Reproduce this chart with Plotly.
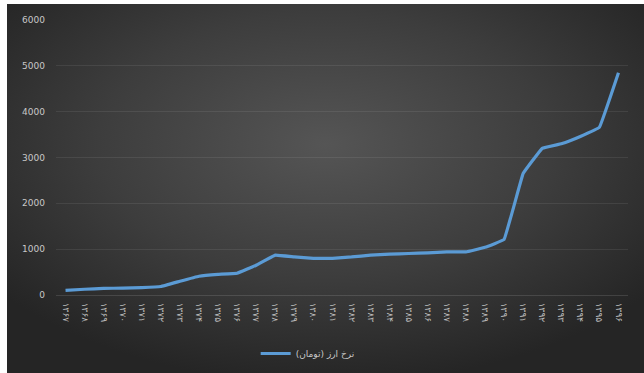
import base64
import plotly.graph_objects as go

# Solar Hijri years and the free-market exchange rate (toman)
years = list(range(1367, 1397))
rates = [100, 125, 145, 150, 160, 185, 300, 410, 450, 475, 650, 870,
         830, 800, 800, 830, 870, 890, 905, 920, 940, 940, 1040, 1210,
         2650, 3200, 3300, 3460, 3660, 4850]
series_name = "نرخ ارز (تومان)"
y_ticks = [0, 1000, 2000, 3000, 4000, 5000, 6000]

FA_DIGITS = str.maketrans("0123456789", "۰۱۲۳۴۵۶۷۸۹")
year_labels = [str(y).translate(FA_DIGITS) for y in years]

W, H = 644, 373
ML, MR, MT, MB = 56, 16, 20, 78
plot_w = W - ML - MR
plot_h = H - MT - MB

# dark panel with a soft radial glow, placed behind the plot
svg = (
    '<svg xmlns="http://www.w3.org/2000/svg" width="637" height="369" '
    'preserveAspectRatio="none" viewBox="0 0 637 369">'
    '<defs><radialGradient id="g" cx="50%" cy="38%" r="65%">'
    '<stop offset="0" stop-color="#555555"/>'
    '<stop offset="0.55" stop-color="#3d3d3d"/>'
    '<stop offset="1" stop-color="#252525"/>'
    '</radialGradient></defs>'
    '<rect width="637" height="369" fill="url(#g)"/></svg>'
)
svg_uri = "data:image/svg+xml;base64," + base64.b64encode(svg.encode()).decode()

panel_left, panel_top = 7, 4


def px_to_paper_x(px):
    return (px - ML) / plot_w


def px_to_paper_y(py):
    return (H - MB - py) / plot_h


fig = go.Figure()
fig.add_trace(go.Scatter(
    x=year_labels,
    y=rates,
    mode="lines",
    name=series_name,
    line=dict(color="#5b9bd5", width=3.2, shape="spline", smoothing=0.15),
))

fig.add_layout_image(dict(
    source=svg_uri,
    xref="paper", yref="paper",
    x=px_to_paper_x(panel_left), y=px_to_paper_y(panel_top),
    sizex=px_to_paper_x(W) - px_to_paper_x(panel_left),
    sizey=px_to_paper_y(panel_top) - px_to_paper_y(H),
    xanchor="left", yanchor="top",
    sizing="stretch", layer="below",
))

fig.update_layout(
    width=W, height=H,
    margin=dict(l=ML, r=MR, t=MT, b=MB, autoexpand=False),
    paper_bgcolor="white",
    plot_bgcolor="rgba(0,0,0,0)",
    font=dict(family="DejaVu Sans, Noto Sans, sans-serif", color="#c8c8c8"),
    showlegend=True,
    legend=dict(
        orientation="h", x=0.44, xanchor="center", y=-0.16, yanchor="top",
        font=dict(size=9, color="#c8c8c8"), bgcolor="rgba(0,0,0,0)",
    ),
    xaxis=dict(
        type="category",
        tickangle=90,
        tickfont=dict(size=9, color="#bdbdbd"),
        showgrid=False,
        showline=True, linecolor="rgba(255,255,255,0.12)", linewidth=1,
        ticks="",
        ticklabelstandoff=5,
        automargin=False,
        range=[-0.5, len(years) - 0.5],
    ),
    yaxis=dict(
        range=[0, 6000],
        tickvals=y_ticks,
        tickfont=dict(size=9, color="#c8c8c8"),
        showgrid=True, gridcolor="rgba(255,255,255,0.08)", gridwidth=1,
        zeroline=False,
        ticklabelstandoff=10,
        automargin=False,
    ),
)

fig.write_html("out.html")
